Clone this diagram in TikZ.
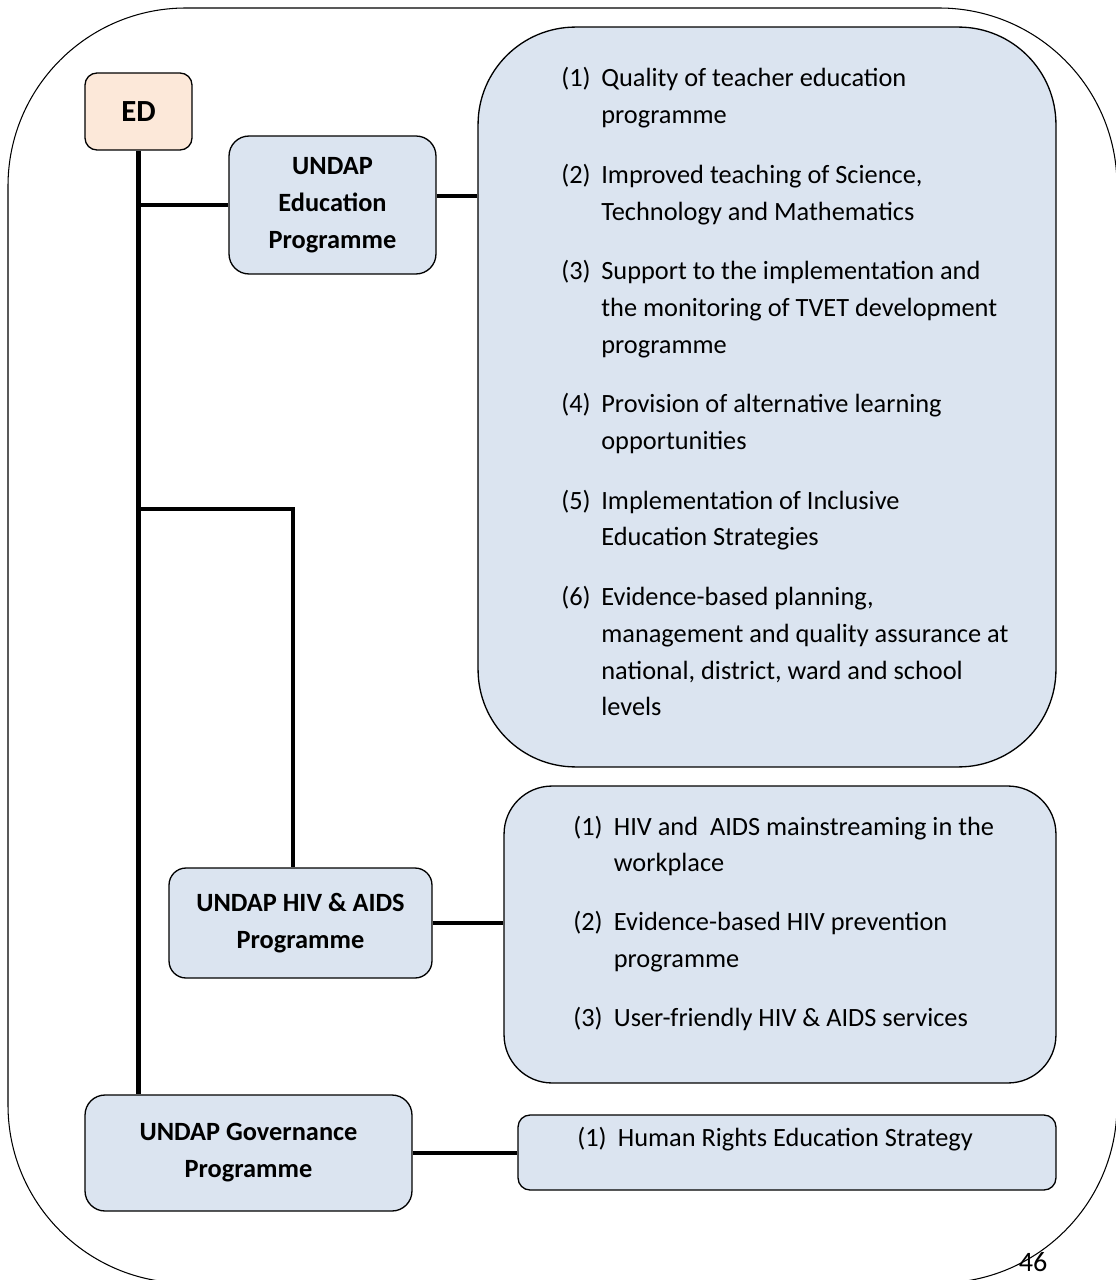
\documentclass[tikz,border=0pt]{standalone}
\usepackage{fontspec}
\setmainfont{Carlito}
\usepackage{xcolor}
\usepackage{tikz}
\usetikzlibrary{positioning,calc}
\definecolor{boxblue}{HTML}{DBE4F0}
\definecolor{boxpeach}{HTML}{FCE8D9}

\begin{document}
\begin{tikzpicture}[
    x=0.02cm, y=-0.02cm,
    unit/.style={draw, line width=0.75pt, fill=boxblue, rounded corners=0.4cm, inner sep=0pt, align=center, font=\fontsize{15}{21}\selectfont\bfseries},
    goals/.style={draw, line width=0.75pt, fill=boxblue, inner sep=0pt},
    goaltext/.style={inner sep=0pt, anchor=base west, font=\fontsize{15}{21}\selectfont},
    link/.style={line width=2.3pt}
]
    \useasboundingbox (0,0) rectangle (1115,1280);
    \draw [line width=0.6pt, rounded corners=3.56cm] (8,8) rectangle (1117,1283);

    \node [unit, fill=boxpeach, rounded corners=0.24cm, minimum width=2.14cm, minimum height=1.54cm, font=\fontsize{17.5}{21}\selectfont\bfseries] (ed) at (138.5,111.5) {ED};
    \node [unit, minimum width=4.14cm, minimum height=2.76cm] (edu) at (332.5,205) {UNDAP\\Education\\Programme};
    \node [unit, rounded corners=0.34cm, minimum width=5.26cm, minimum height=2.2cm] (hiv) at (300.5,923) {UNDAP HIV \& AIDS\\Programme};
    \node [unit, minimum width=6.54cm, minimum height=2.32cm] (gov) at (248.5,1153) {UNDAP Governance\\Programme};

    \node [goals, rounded corners=1.95cm, minimum width=11.56cm, minimum height=14.8cm] (edugoals) at (767,397) {};
    \node [goals, rounded corners=0.96cm, minimum width=11.04cm, minimum height=5.94cm] (hivgoals) at (780,934.5) {};
    \node [goals, rounded corners=0.24cm, minimum width=10.76cm, minimum height=1.5cm] (govgoals) at (787,1152.5) {};

    \node [goaltext] (edulist) at (561,87) {\begin{tabular}[t]{@{}p{0.8cm}@{}l@{}}
        (1) & Quality of teacher education\\
            & programme\\[12.8pt]
        (2) & Improved teaching of Science,\\
            & Technology and Mathematics\\[12.8pt]
        (3) & Support to the implementation and\\
            & the monitoring of TVET development\\
            & programme\\[12.8pt]
        (4) & Provision of alternative learning\\
            & opportunities\\[12.8pt]
        (5) & Implementation of Inclusive\\
            & Education Strategies\\[12.8pt]
        (6) & Evidence-based planning,\\
            & management and quality assurance at\\
            & national, district, ward and school\\
            & levels
    \end{tabular}};
    \node [goaltext] (hivlist) at (573,835) {\begin{tabular}[t]{@{}p{0.81cm}@{}l@{}}
        (1) & HIV and\ \ AIDS mainstreaming in the\\
            & workplace\\[12.5pt]
        (2) & Evidence-based HIV prevention\\
            & programme\\[12.5pt]
        (3) & User-friendly HIV \& AIDS services
    \end{tabular}};
    \node [goaltext] (govlist) at (577,1146) {\begin{tabular}[t]{@{}p{0.81cm}@{}l@{}}
        (1) & Human Rights Education Strategy
    \end{tabular}};

    \coordinate (forky) at (0,509);
    \coordinate (hivfork) at (ed.south |- forky);
    \draw [link] (ed.south) -- (ed.south |- gov.north);
    \draw [link] (ed.south |- edu.west) -- (edu.west);
    \draw [link] ([yshift=0.18cm]edu.east) -- ([yshift=0.18cm]edu.east -| edugoals.west);
    \draw [link] (hivfork) -| ([xshift=-0.15cm]hiv.north);
    \draw [link] (hiv.east) -- (hiv.east -| hivgoals.west);
    \draw [link] (gov.east) -- (gov.east -| govgoals.west);

    \node [font=\fontsize{16}{20}\selectfont, anchor=base, inner sep=0pt] (pagenum) at (1033,1271) {46};
\end{tikzpicture}
\end{document}
